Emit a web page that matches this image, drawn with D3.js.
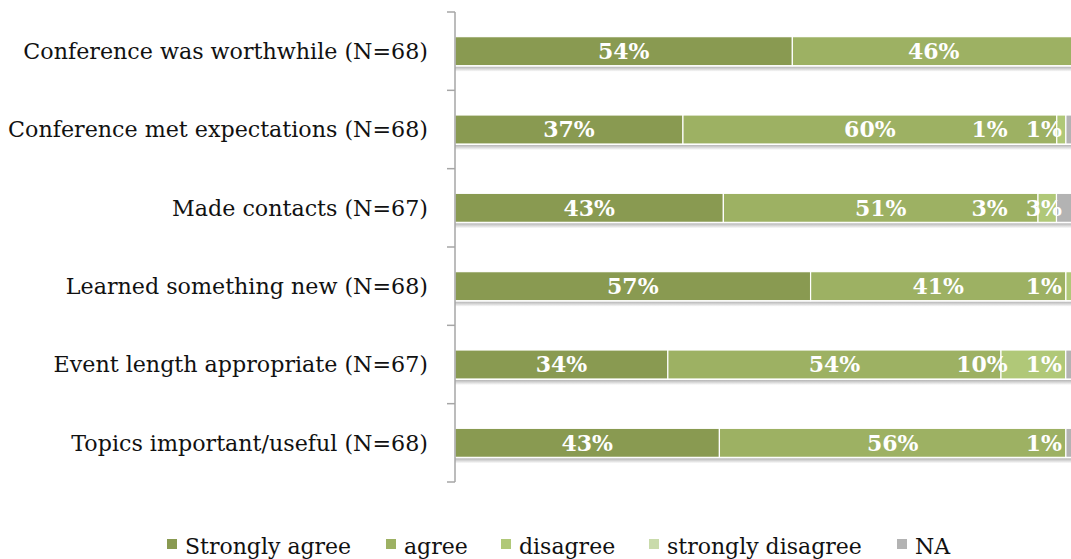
<!DOCTYPE html>
<html>
<head>
<meta charset="utf-8">
<script src="https://cdn.jsdelivr.net/npm/d3@7"></script>
<style>
  html, body { margin: 0; padding: 0; background: #fff; }
  svg { display: block; }
</style>
</head>
<body>
<svg id="chart" width="1071" height="559"></svg>
<script>
// Survey items, top to bottom, with the number of respondents for each
const categories = [
  "Conference was worthwhile",
  "Conference met expectations",
  "Made contacts",
  "Learned something new",
  "Event length appropriate",
  "Topics important/useful"
];
const respondents = [68, 68, 67, 68, 67, 68];

// Response counts per item
const stronglyAgree    = [37, 25, 29, 39, 23, 29];
const agree            = [31, 41, 34, 28, 36, 38];
const disagree         = [0, 1, 2, 1, 7, 0];
const stronglyDisagree = [0, 0, 0, 0, 0, 0];
const notApplicable    = [0, 1, 2, 0, 1, 1];

const seriesNames = ["Strongly agree", "agree", "disagree", "strongly disagree", "NA"];
const seriesColors = ["#899a51", "#9db163", "#b0c878", "#c9dbab", "#b3b3b3"];

const seriesValues = [stronglyAgree, agree, disagree, stronglyDisagree, notApplicable];

const svg = d3.select("#chart");
const W = 1071;

// Share of respondents per answer, stacked left to right
const rows = categories.map((c, i) => {
  const row = { category: c, n: respondents[i] };
  seriesNames.forEach((s, k) => { row[s] = seriesValues[k][i] / respondents[i]; });
  return row;
});
const stack = d3.stack().keys(seriesNames)(rows);

const x = d3.scaleLinear().domain([0, 1]).range([455, 1075]);
const y = d3.scaleBand().domain(categories).range([12, 482]).padding(0);
const barH = y.step() / 2.7;
const barY = c => y(c) + (y.bandwidth() - barH) / 2;

const color = d3.scaleOrdinal().domain(seriesNames).range(seriesColors);

// Soft shadow beneath each bar
const defs = svg.append("defs");
const grad = defs.append("linearGradient").attr("id", "shade")
  .attr("x1", 0).attr("y1", 0).attr("x2", 0).attr("y2", 1);
grad.append("stop").attr("offset", "0%").attr("stop-color", "#b5b5b5");
grad.append("stop").attr("offset", "100%").attr("stop-color", "#ffffff");

svg.append("g").selectAll("rect")
  .data(categories)
  .join("rect")
  .attr("x", x(0))
  .attr("y", c => barY(c) + barH + 1)
  .attr("width", x(1) - x(0))
  .attr("height", 5)
  .attr("fill", "url(#shade)");

// Stacked segments
svg.append("g").selectAll("g")
  .data(stack)
  .join("g")
  .attr("fill", d => color(d.key))
  .selectAll("rect")
  .data(d => d.filter(p => p[1] - p[0] > 0))
  .join("rect")
  .attr("x", p => x(p[0]))
  .attr("y", p => barY(p.data.category))
  .attr("width", p => x(p[1]) - x(p[0]))
  .attr("height", barH)
  .attr("stroke", "#ffffff")
  .attr("stroke-width", 1.2);

// Category axis: line with tick marks between the items
const axisG = svg.append("g").attr("stroke", "#a6a6a6").attr("stroke-width", 1.5);
const r = y.range();
axisG.append("line").attr("x1", x(0)).attr("x2", x(0)).attr("y1", r[0]).attr("y2", r[1]);
const tickYs = categories.map(c => y(c)).concat([r[1]]);
axisG.selectAll("line.tick")
  .data(tickYs)
  .join("line")
  .attr("class", "tick")
  .attr("x1", x(0) - 8).attr("x2", x(0))
  .attr("y1", d => d).attr("y2", d => d);

// Category labels
svg.append("g").selectAll("text")
  .data(rows)
  .join("text")
  .attr("x", 428)
  .attr("y", d => y(d.category) + y.bandwidth() / 2)
  .attr("dy", "0.35em")
  .attr("text-anchor", "end")
  .attr("font-family", "'DejaVu Serif', serif")
  .attr("font-size", 22.2)
  .attr("fill", "#111")
  .text(d => `${d.category} (N=${d.n})`);

// Percentage labels: centered on each segment, kept inside the chart's
// right edge and nudged left where neighbours would collide
const fmt = d3.format(".0%");
const labelG = svg.append("g");
categories.forEach(c => {
  const items = [];
  stack.forEach(s => {
    const p = s.find(q => q.data.category === c);
    if (p[1] - p[0] > 0) items.push({ v: p[1] - p[0], cx: x((p[0] + p[1]) / 2) });
  });
  const texts = items.map(it => labelG.append("text")
    .attr("y", barY(c) + barH / 2)
    .attr("dy", "0.36em")
    .attr("text-anchor", "middle")
    .attr("font-family", "'DejaVu Serif', serif")
    .attr("font-weight", "bold")
    .attr("font-size", 22)
    .attr("fill", "#ffffff")
    .text(fmt(it.v)));
  items.forEach((it, k) => { it.w = texts[k].node().getComputedTextLength(); });
  let limit = W - 9;
  for (let k = items.length - 1; k >= 0; k--) {
    const it = items[k];
    if (it.cx + it.w / 2 > limit) it.cx = limit - it.w / 2;
    limit = it.cx - it.w / 2 - 18;
    texts[k].attr("x", it.cx);
  }
});

// Legend
const legend = svg.append("g").attr("transform", "translate(0,546)");
const legendX = [167, 386, 501, 649, 897];
seriesNames.forEach((s, k) => {
  const g = legend.append("g").attr("transform", `translate(${legendX[k]},0)`);
  g.append("rect").attr("x", 0).attr("y", -7).attr("width", 10).attr("height", 10)
    .attr("fill", color(s));
  g.append("text").attr("x", 18).attr("y", 0).attr("dy", "0.35em")
    .attr("font-family", "'DejaVu Serif', serif")
    .attr("font-size", 22)
    .attr("fill", "#111")
    .text(s);
});
</script>
</body>
</html>
